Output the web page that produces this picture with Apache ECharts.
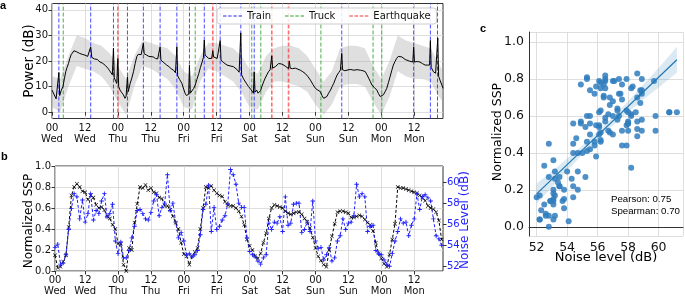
<!DOCTYPE html>
<html>
<head>
<meta charset="utf-8">
<script src="https://cdn.jsdelivr.net/npm/echarts@6/dist/echarts.min.js"></script>
<style>
  html, body { margin: 0; padding: 0; background: #fff; }
  #chart { width: 685px; height: 297px; }
</style>
</head>
<body>
<div id="chart"></div>
<script>
// ---------- panel a: acoustic power over the week (hour, dB) ----------
const powerSeries = [
  [0,8.6],[0.5,7.5],[1,6.8],[1.5,5.2],[2,5.8],[2.5,15.5],[2.8,6.5],[3.4,8.6],[4,10],[4.5,13],[5,15.8],[5.5,17.5],
  [6,19],[6.5,21],[7,22.5],[7.5,23.2],[8,24],[8.5,24.3],[9,23.6],[9.5,23.9],[10,23],[10.5,23.2],[11,22.6],[11.5,22.8],
  [12,22.3],[12.5,22],[13,21.8],[13.5,22.2],[14.1,25.5],[14.5,21.4],[15,21],[15.5,20.8],[16,20.4],[16.5,20.6],[17,20],
  [17.5,19.6],[18,19.4],[18.5,19.1],[19,18.7],[19.5,18.2],[20,17.6],[20.5,17],[21,16.2],[21.5,15.5],[22,14.6],[22.4,25],
  [22.7,13.4],[23.2,12.1],[23.6,11.2],[24,21],[24.3,10],[24.8,8.6],[25.3,7.8],[26,6.8],[26.6,5.4],[27,6.2],[27.5,13.8],
  [27.8,8],[28.5,11.3],[29,13],[29.7,15.8],[30.3,19],[30.9,21.7],[31.4,22.6],[31.9,23],[32.5,22.5],[33.3,27],[33.6,22.8],
  [34.5,22.3],[35.3,21.8],[36,22],[36.9,21.6],[37.7,21],[38.5,20.8],[39.4,25.5],[39.7,20.3],[40.5,19.6],[41.2,19],
  [41.8,18.4],[42.6,17.8],[43.4,17],[44.3,16.4],[45,15.4],[45.5,25.6],[45.8,14.2],[46.5,12.8],[47.3,11.3],[48,9],
  [48.5,7.4],[49,6.5],[49.4,6.1],[49.8,7],[50.1,18.4],[50.4,7.4],[51,8],[51.6,9.2],[52.2,10.6],[52.8,12.8],[53.5,15.1],
  [54.1,17.5],[54.7,19.6],[55.2,21.5],[55.5,28.2],[55.8,22.3],[56.5,21.6],[57.1,21],[57.7,20.3],[58.2,21],[58.6,24],
  [58.9,21.6],[59.5,21.4],[60.2,21],[60.8,20.6],[61.3,28],[61.6,20.3],[62.4,19.5],[63.1,18.8],[63.8,18.4],[64.5,18.2],
  [65.2,18],[66.1,17.8],[66.8,17.2],[67.5,16.6],[68.2,15.6],[68.8,31],[69.1,14.6],[69.8,13],[70.8,11.3],[71.6,10],
  [72.4,9],[72.8,8.6],[73.4,7.4],[73.7,15.8],[74,7.8],[74.6,8.6],[75.1,7.4],[75.6,6.8],[76,8.4],[76.5,10],[77.1,11.8],
  [77.7,13.3],[78.3,14.6],[78.9,15.8],[79.5,16.6],[80.1,22],[80.4,17.2],[81.4,17.8],[82,18.3],[82.6,19],[83.2,18.6],
  [83.8,18.8],[84.4,18.4],[85,18],[85.7,17.6],[86.2,17],[86.5,20],[86.8,17.2],[87.6,17],[88.7,17.2],[89.6,16.8],
  [90.5,16.4],[91.4,15.8],[92.3,15.1],[93.2,14],[94.2,12.5],[95.1,10.8],[96,9.3],[96.9,8.6],[97.8,8],[98.4,6.5],[99,5.4],
  [99.6,5.6],[100.2,6.1],[100.8,7.4],[101.5,8.6],[102.1,10],[102.7,11.3],[103.3,13],[103.9,14.5],[104.5,15.5],
  [105.1,16.4],[105.6,23],[105.9,16.6],[106.7,16.2],[107.5,16.4],[108.7,16.7],[110,16.4],[111.2,16.6],[112.4,16.4],
  [113.3,16.2],[114.2,15.8],[114.8,14.6],[115.4,13.3],[116,12],[116.6,10.6],[117.5,9.6],[118.4,8.6],[119,7.2],[119.6,6.1],
  [120.2,6.3],[120.8,6.8],[121.4,8],[122,9.3],[122.6,11.5],[123.2,13.8],[123.8,16.2],[124.4,18.4],[125,19.8],[125.6,21],
  [126.2,21.8],[126.9,22.3],[127.5,21.6],[128.1,21],[128.7,20.6],[129.3,20.3],[130.4,19.9],[131.5,19.6],[131.8,25.5],
  [132.1,19.6],[133.1,19.8],[134.1,19.6],[135,19],[136,18.4],[136.8,18.4],[137.6,18.4],[137.9,28],[138.2,17.5],[139,15.8],
  [139.8,15.2],[140.5,14.5],[140.6,29],[140.9,14],[141.5,12.2],[142.1,10.6],[142.5,9.3]
];
// spread (grey band) read every 3 h
const bandHours = [0,3,6,9,12,15,18,21,24,27,30,33,36,39,42,45,48,51,54,57,60,63,66,69,72,75,78,81,84,87,90,93,96,99,102,105,108,111,114,117,120,123,126,129,132,135,138,141,142.5];
const bandLow  = [2,0,10,18,17,16,14,10,4,-1,10,18,17,15,13,9,2,1,12,17,16,14,12,8,2,1,8,12,12,11,10,8,3,-1,3,10,11,11,10,4,-1,6,16,14,13,13,12,6,4];
const bandHigh = [14,13,22,30,29,27,26,23,18,13,22,28,27,26,25,22,16,14,22,27,27,26,25,22,17,15,22,25,26,26,25,22,17,12,16,25,26,26,25,18,13,20,30,28,27,26,25,19,16];

const trainEvents = [2.5,14.1,22.4,27.5,33.3,39.4,45.5,50.1,55.5,61.3,68.8,73.7,105.6,131.8,137.9,140.5];
const truckEvents = [4.1,52.2,72.8,76.1,98.0,117.0,120.2];
const quakeEvents = [24.0,58.6,80.1,86.2];

// ---------- panel b: hourly SSP and noise level ----------
const sspStartHour = 1;
const ssp = [
  0.15,0.03,0.04,0.09,0.15,0.42,0.72,0.8,0.83,0.8,
  0.76,0.75,0.68,0.72,0.7,0.63,0.6,0.61,0.58,0.52,
  0.5,0.44,0.4,0.26,0.26,0.06,0.0,0.22,0.2,0.46,
  0.64,0.8,0.79,0.82,0.77,0.79,0.75,0.74,0.7,0.69,
  0.62,0.62,0.58,0.52,0.46,0.4,0.27,0.16,0.14,0.06,
  0.14,0.18,0.22,0.4,0.6,0.8,0.79,0.81,0.77,0.74,
  0.72,0.71,0.66,0.63,0.62,0.62,0.6,0.57,0.52,0.44,
  0.3,0.24,0.2,0.14,0.12,0.17,0.27,0.36,0.5,0.6,
  0.63,0.62,0.61,0.6,0.57,0.55,0.54,0.55,0.56,0.56,
  0.54,0.5,0.47,0.41,0.32,0.22,0.14,0.1,0.06,0.04,
  0.2,0.33,0.45,0.56,0.57,0.57,0.56,0.55,0.51,0.51,
  0.52,0.53,0.52,0.49,0.46,0.44,0.38,0.27,0.17,0.12,
  0.07,0.04,0.16,0.3,0.45,0.8,0.79,0.79,0.78,0.77,
  0.76,0.75,0.74,0.72,0.7,0.67,0.62,0.6,0.59,0.56,
  0.48,0.3
];
const noiseLevel = [
  53.8,54.1,52.2,52.3,53.1,55.5,57.5,58.9,58.6,56.5,
  58.3,56.2,57.0,58.9,56.4,57.3,57.0,58.2,58.9,56.7,
  57.0,57.9,54.4,53.2,54.3,52.8,52.8,53.5,54.7,55.8,
  57.3,57.4,57.0,56.5,56.4,57.1,58.2,58.8,56.8,57.6,
  58.0,60.7,57.3,58.0,56.2,54.7,55.2,54.4,53.1,53.2,
  52.9,53.1,53.5,55.0,57.4,57.9,59.7,55.3,57.6,55.5,
  55.8,56.4,56.8,57.9,61.2,60.7,59.8,58.0,57.6,57.6,
  54.7,53.4,53.1,52.9,52.5,52.2,52.8,53.1,56.1,55.5,
  56.2,56.1,56.7,55.3,58.6,55.9,56.1,57.9,58.0,58.0,
  55.2,55.5,56.2,55.3,58.2,54.4,53.7,53.8,52.6,53.1,
  53.8,52.5,52.8,54.4,54.9,56.5,55.5,56.1,56.2,56.8,
  59.8,58.6,58.9,58.6,55.3,55.8,55.9,53.5,53.2,53.1,
  52.6,52.2,52.0,53.2,54.4,55.3,56.5,56.1,56.2,54.9,
  55.9,56.5,58.9,57.4,58.6,58.8,58.5,58.2,56.5,54.9,
  54.6,54.0
];

// ---------- panel c: regression line and its confidence band ----------
const fitX = [52, 61.2];
const fitY = [0.178, 0.905];
const ciX    = [52, 53, 54, 55, 56, 57, 58, 59, 60, 61.2];
const ciLow  = [0.125, 0.215, 0.305, 0.39, 0.475, 0.55, 0.62, 0.69, 0.755, 0.835];
const ciHigh = [0.235, 0.3, 0.37, 0.44, 0.515, 0.595, 0.68, 0.77, 0.86, 0.975];
const statLines = ['Pearson: 0.75', 'Spearman: 0.70'];

// ---------- ticks ----------
const dayTicksA = [0,12,24,36,48,60,72,84,96,108,120,132];
const dayTicksB = [1,12,24,36,48,60,72,84,96,108,120,132];
const dayTickLabels = ['00\nWed','12\nWed','00\nThu','12\nThu','00\nFri','12\nFri','00\nSat','12\nSat','00\nSun','12\nSun','00\nMon','12\nMon'];
const powerTicks = [0,10,20,30,40];
const sspTicks = [0,0.2,0.4,0.6,0.8,1.0];
const noiseTicks = [52,54,56,58,60];

const POWER_MIN = -2.5, POWER_MAX = 42.5;
const FONT = 'DejaVu Sans';
const gridColor = '#d6d6d6';
const spineColor = '#333';
const blue = '#1f1fff';
const crossSymbol = 'path://M0,1L1,0L5,4L9,0L10,1L6,5L10,9L9,10L5,6L1,10L0,9L4,5Z';
const plusSymbol = 'path://M4,0H6V4H10V6H6V10H4V6H0V4H4Z';
const dashIcon = 'path://M0,0H4V1.2H0ZM6,0H10V1.2H6ZM12,0H16V1.2H12ZM18,0H22V1.2H18Z';

function bandRenderer(xs, lo, hi, fill) {
  return function (params, api) {
    if (params.dataIndex !== 0) return null;
    const pts = [];
    for (let i = 0; i < xs.length; i++) pts.push(api.coord([xs[i], hi[i]]));
    for (let i = xs.length - 1; i >= 0; i--) pts.push(api.coord([xs[i], lo[i]]));
    return { type: 'polygon', shape: { points: pts }, style: { fill: fill } };
  };
}

// vertical dashed event line spanning the whole panel
function eventSeries(name, hours, color, width, opacity) {
  return {
    name: name, type: 'custom', xAxisIndex: 0, yAxisIndex: 0, z: 3, silent: true,
    itemStyle: { color: color },
    data: hours.map(h => [h, POWER_MIN]),
    encode: { x: 0, y: 1 },
    renderItem: function (params, api) {
      const h = api.value(0);
      const p0 = api.coord([h, POWER_MIN]);
      const p1 = api.coord([h, POWER_MAX]);
      return {
        type: 'line',
        shape: { x1: p0[0], y1: p0[1], x2: p1[0], y2: p1[1] },
        style: { stroke: color, lineWidth: width, lineDash: [4, 2], opacity: opacity }
      };
    }
  };
}

function dayAxis(gridIndex, min, ticks) {
  return {
    gridIndex: gridIndex, type: 'value', min: min, max: 142.5,
    axisLine: { show: false },
    axisTick: { show: true, length: 3.5, customValues: ticks, lineStyle: { color: spineColor } },
    axisLabel: {
      customValues: ticks, fontSize: 10, lineHeight: 11, color: '#111', fontFamily: FONT, margin: 4,
      formatter: v => dayTickLabels[ticks.indexOf(v)] || ''
    },
    splitLine: { show: true, lineStyle: { color: gridColor, width: 0.8 } }
  };
}

const chart = echarts.init(document.getElementById('chart'), null, { renderer: 'canvas' });

chart.setOption({
  animation: false,
  backgroundColor: '#fff',
  textStyle: { fontFamily: FONT },
  grid: [
    { left: 52, top: 3.5, width: 391, height: 115, show: true, borderColor: spineColor, borderWidth: 1 },
    { left: 55, top: 166, width: 388, height: 111, show: true, borderColor: spineColor, borderWidth: 1 },
    { left: 529, top: 32, width: 154, height: 204 }
  ],
  legend: {
    data: [
      { name: 'Train', icon: dashIcon },
      { name: 'Truck', icon: dashIcon },
      { name: 'Earthquake', icon: dashIcon }
    ],
    left: 217, top: 8, padding: [3, 6], itemGap: 14, itemWidth: 19, itemHeight: 2,
    backgroundColor: 'rgba(255,255,255,0.85)', borderColor: '#ccc', borderWidth: 1, borderRadius: 3,
    textStyle: { fontSize: 10, color: '#111', fontFamily: FONT }
  },
  xAxis: [
    dayAxis(0, 0, dayTicksA),
    dayAxis(1, 1, dayTicksB),
    {
      gridIndex: 2, type: 'value', min: 51.5, max: 61.6,
      axisLine: { show: true, lineStyle: { color: spineColor } },
      axisTick: { show: false },
      axisLabel: { customValues: noiseTicks, fontSize: 12.5, color: '#111', fontFamily: FONT, margin: 5 },
      splitLine: { show: true, lineStyle: { color: gridColor, width: 0.8 } }
    }
  ],
  yAxis: [
    {
      gridIndex: 0, type: 'value', min: POWER_MIN, max: POWER_MAX,
      axisLine: { show: false },
      axisTick: { show: true, length: 3.5, customValues: powerTicks, lineStyle: { color: spineColor } },
      axisLabel: { customValues: powerTicks, fontSize: 10, color: '#111', fontFamily: FONT, margin: 4 },
      splitLine: { show: true, lineStyle: { color: gridColor, width: 0.8 } }
    },
    {
      gridIndex: 1, type: 'value', min: 0, max: 1, interval: 0.2,
      axisLine: { show: false },
      axisTick: { show: true, length: 3.5, lineStyle: { color: spineColor } },
      axisLabel: { fontSize: 10, color: '#111', fontFamily: FONT, margin: 4, formatter: v => v.toFixed(1) },
      splitLine: { show: true, lineStyle: { color: gridColor, width: 0.8 } }
    },
    {
      gridIndex: 1, type: 'value', position: 'right', min: 51.55, max: 61.53,
      axisLine: { show: false },
      axisTick: { show: true, length: 3.5, customValues: noiseTicks, lineStyle: { color: spineColor } },
      axisLabel: { customValues: noiseTicks, fontSize: 10, color: blue, fontFamily: FONT, margin: 4 },
      splitLine: { show: false }
    },
    {
      gridIndex: 2, type: 'value', min: -0.05, max: 1.055,
      axisLine: { show: true, lineStyle: { color: spineColor } },
      axisTick: { show: false },
      axisLabel: { customValues: sspTicks, fontSize: 12.5, color: '#111', fontFamily: FONT, margin: 5, formatter: v => v.toFixed(1) },
      splitLine: { show: true, lineStyle: { color: gridColor, width: 0.8 } }
    }
  ],
  series: [
    {
      type: 'custom', xAxisIndex: 0, yAxisIndex: 0, z: 1, silent: true,
      data: bandHours.map((h, i) => [h, bandLow[i], bandHigh[i]]),
      encode: { x: 0, y: [1, 2] },
      renderItem: bandRenderer(bandHours, bandLow, bandHigh, 'rgba(170,170,170,0.38)')
    },
    eventSeries('Train', trainEvents, '#2a2aff', 1, 0.85),
    eventSeries('Truck', truckEvents, '#2ca02c', 1, 0.85),
    eventSeries('Earthquake', quakeEvents, '#ff3030', 1.6, 0.7),
    {
      type: 'line', xAxisIndex: 0, yAxisIndex: 0, z: 4, data: powerSeries, symbol: 'none',
      lineStyle: { color: '#000', width: 1 }
    },
    {
      type: 'line', xAxisIndex: 1, yAxisIndex: 1, z: 4,
      data: ssp.map((v, i) => [sspStartHour + i, v]),
      symbol: crossSymbol, symbolSize: 4, itemStyle: { color: '#000' },
      lineStyle: { color: '#000', width: 1, type: [3, 2] }
    },
    {
      type: 'line', xAxisIndex: 1, yAxisIndex: 2, z: 4,
      data: noiseLevel.map((v, i) => [sspStartHour + i, v]),
      symbol: plusSymbol, symbolSize: 4.5, itemStyle: { color: blue },
      lineStyle: { color: blue, width: 1, type: [3, 2] }
    },
    {
      type: 'custom', xAxisIndex: 2, yAxisIndex: 3, z: 1, silent: true,
      data: ciX.map((x, i) => [x, ciLow[i], ciHigh[i]]),
      encode: { x: 0, y: [1, 2] },
      renderItem: bandRenderer(ciX, ciLow, ciHigh, 'rgba(31,119,180,0.16)')
    },
    {
      type: 'scatter', xAxisIndex: 2, yAxisIndex: 3, z: 3,
      data: ssp.map((v, i) => [noiseLevel[i], v]),
      symbolSize: 6, itemStyle: { color: '#2f7dbd', opacity: 0.85 }
    },
    {
      type: 'line', xAxisIndex: 2, yAxisIndex: 3, z: 4, symbol: 'none',
      data: fitX.map((x, i) => [x, fitY[i]]),
      lineStyle: { color: '#1f77b4', width: 1.2 }
    }
  ],
  graphic: [
    { type: 'text', left: 0, top: 0, style: { text: 'a', fontFamily: 'Liberation Sans', fontWeight: 'bold', fontSize: 11, fill: '#000' } },
    { type: 'text', left: 1, top: 151, style: { text: 'b', fontFamily: 'Liberation Sans', fontWeight: 'bold', fontSize: 11, fill: '#000' } },
    { type: 'text', left: 480, top: 23, style: { text: 'c', fontFamily: 'Liberation Sans', fontWeight: 'bold', fontSize: 11, fill: '#000' } },
    { type: 'text', x: 29, y: 61, rotation: Math.PI / 2,
      style: { text: 'Power (dB)', fontFamily: FONT, fontSize: 13.5, fill: '#000', align: 'center', verticalAlign: 'middle' } },
    { type: 'text', x: 29, y: 221, rotation: Math.PI / 2,
      style: { text: 'Normalized SSP', fontFamily: FONT, fontSize: 12, fill: '#000', align: 'center', verticalAlign: 'middle' } },
    { type: 'text', x: 465, y: 220, rotation: Math.PI / 2,
      style: { text: 'Noise Level (dB)', fontFamily: FONT, fontSize: 12, fill: blue, align: 'center', verticalAlign: 'middle' } },
    { type: 'text', x: 497.5, y: 132, rotation: Math.PI / 2,
      style: { text: 'Normalized SSP', fontFamily: FONT, fontSize: 12.5, fill: '#000', align: 'center', verticalAlign: 'middle' } },
    { type: 'text', x: 606, y: 258,
      style: { text: 'Noise level (dB)', fontFamily: FONT, fontSize: 13, fill: '#000', align: 'center', verticalAlign: 'middle' } },
    { type: 'text', x: 611, y: 199,
      style: { text: statLines[0], fontFamily: 'Liberation Sans', fontSize: 9.7, fill: '#000', align: 'left', verticalAlign: 'middle' } },
    { type: 'text', x: 611, y: 211,
      style: { text: statLines[1], fontFamily: 'Liberation Sans', fontSize: 9.7, fill: '#000', align: 'left', verticalAlign: 'middle' } }
  ]
});
</script>
</body>
</html>
